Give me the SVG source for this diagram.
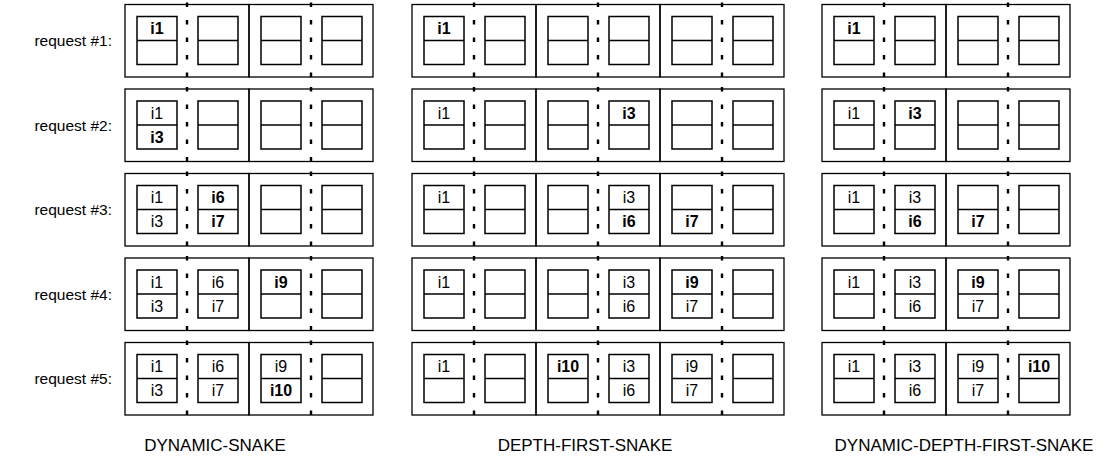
<svg xmlns="http://www.w3.org/2000/svg" xmlns:xlink="http://www.w3.org/1999/xlink" width="1114" height="461" viewBox="0 0 1114 461">
<style>
.frame{fill:none;stroke:#000;stroke-width:1.3}
.box{fill:none;stroke:#000;stroke-width:1.5}
.dots{stroke:#000;stroke-width:2.4;stroke-dasharray:4.5 13}
text{font-family:"Liberation Sans",Arial,Helvetica,sans-serif;font-size:16px;fill:#000}
.it{text-anchor:middle}
.b{font-weight:bold}
.req{text-anchor:end;font-size:15.5px}
.cap{text-anchor:middle;font-size:17px}
</style>
<defs>
<g id="cell">
<rect class="frame" x="0" y="0" width="124" height="72.5"/>
<line class="dots" x1="62" y1="-2" x2="62" y2="76"/>
<rect class="box" x="12" y="12" width="40" height="48"/>
<line class="box" x1="12" y1="36" x2="52" y2="36"/>
<rect class="box" x="73" y="12" width="40" height="48"/>
<line class="box" x1="73" y1="36" x2="113" y2="36"/>
</g>
</defs>
<g id="labels">
<text class="req" x="112" y="46">request #1:</text>
<text class="req" x="112" y="130.5">request #2:</text>
<text class="req" x="112" y="215">request #3:</text>
<text class="req" x="112" y="299.5">request #4:</text>
<text class="req" x="112" y="384">request #5:</text>
</g>
<g id="ds-r1"><use xlink:href="#cell" x="125" y="4.5"/><use xlink:href="#cell" x="249" y="4.5"/>
<text class="it b" x="157" y="34">i1</text></g>
<g id="ds-r2"><use xlink:href="#cell" x="125" y="89"/><use xlink:href="#cell" x="249" y="89"/>
<text class="it" x="157" y="118.5">i1</text><text class="it b" x="157" y="142.5">i3</text></g>
<g id="ds-r3"><use xlink:href="#cell" x="125" y="173.5"/><use xlink:href="#cell" x="249" y="173.5"/>
<text class="it" x="157" y="203">i1</text><text class="it" x="157" y="227">i3</text>
<text class="it b" x="218" y="203">i6</text><text class="it b" x="218" y="227">i7</text></g>
<g id="ds-r4"><use xlink:href="#cell" x="125" y="258"/><use xlink:href="#cell" x="249" y="258"/>
<text class="it" x="157" y="287.5">i1</text><text class="it" x="157" y="311.5">i3</text>
<text class="it" x="218" y="287.5">i6</text><text class="it" x="218" y="311.5">i7</text>
<text class="it b" x="281" y="287.5">i9</text></g>
<g id="ds-r5"><use xlink:href="#cell" x="125" y="342.5"/><use xlink:href="#cell" x="249" y="342.5"/>
<text class="it" x="157" y="372">i1</text><text class="it" x="157" y="396">i3</text>
<text class="it" x="218" y="372">i6</text><text class="it" x="218" y="396">i7</text>
<text class="it" x="281" y="372">i9</text><text class="it b" x="281" y="396">i10</text></g>

<g id="dfs-r1"><use xlink:href="#cell" x="412" y="4.5"/><use xlink:href="#cell" x="536" y="4.5"/><use xlink:href="#cell" x="660" y="4.5"/>
<text class="it b" x="444" y="34">i1</text></g>
<g id="dfs-r2"><use xlink:href="#cell" x="412" y="89"/><use xlink:href="#cell" x="536" y="89"/><use xlink:href="#cell" x="660" y="89"/>
<text class="it" x="444" y="118.5">i1</text><text class="it b" x="629" y="118.5">i3</text></g>
<g id="dfs-r3"><use xlink:href="#cell" x="412" y="173.5"/><use xlink:href="#cell" x="536" y="173.5"/><use xlink:href="#cell" x="660" y="173.5"/>
<text class="it" x="444" y="203">i1</text>
<text class="it" x="629" y="203">i3</text><text class="it b" x="629" y="227">i6</text>
<text class="it b" x="692" y="227">i7</text></g>
<g id="dfs-r4"><use xlink:href="#cell" x="412" y="258"/><use xlink:href="#cell" x="536" y="258"/><use xlink:href="#cell" x="660" y="258"/>
<text class="it" x="444" y="287.5">i1</text>
<text class="it" x="629" y="287.5">i3</text><text class="it" x="629" y="311.5">i6</text>
<text class="it b" x="692" y="287.5">i9</text><text class="it" x="692" y="311.5">i7</text></g>
<g id="dfs-r5"><use xlink:href="#cell" x="412" y="342.5"/><use xlink:href="#cell" x="536" y="342.5"/><use xlink:href="#cell" x="660" y="342.5"/>
<text class="it" x="444" y="372">i1</text>
<text class="it b" x="568" y="372">i10</text>
<text class="it" x="629" y="372">i3</text><text class="it" x="629" y="396">i6</text>
<text class="it" x="692" y="372">i9</text><text class="it" x="692" y="396">i7</text></g>

<g id="ddfs-r1"><use xlink:href="#cell" x="822" y="4.5"/><use xlink:href="#cell" x="946" y="4.5"/>
<text class="it b" x="854" y="34">i1</text></g>
<g id="ddfs-r2"><use xlink:href="#cell" x="822" y="89"/><use xlink:href="#cell" x="946" y="89"/>
<text class="it" x="854" y="118.5">i1</text><text class="it b" x="915" y="118.5">i3</text></g>
<g id="ddfs-r3"><use xlink:href="#cell" x="822" y="173.5"/><use xlink:href="#cell" x="946" y="173.5"/>
<text class="it" x="854" y="203">i1</text>
<text class="it" x="915" y="203">i3</text><text class="it b" x="915" y="227">i6</text>
<text class="it b" x="978" y="227">i7</text></g>
<g id="ddfs-r4"><use xlink:href="#cell" x="822" y="258"/><use xlink:href="#cell" x="946" y="258"/>
<text class="it" x="854" y="287.5">i1</text>
<text class="it" x="915" y="287.5">i3</text><text class="it" x="915" y="311.5">i6</text>
<text class="it b" x="978" y="287.5">i9</text><text class="it" x="978" y="311.5">i7</text></g>
<g id="ddfs-r5"><use xlink:href="#cell" x="822" y="342.5"/><use xlink:href="#cell" x="946" y="342.5"/>
<text class="it" x="854" y="372">i1</text>
<text class="it" x="915" y="372">i3</text><text class="it" x="915" y="396">i6</text>
<text class="it" x="978" y="372">i9</text><text class="it" x="978" y="396">i7</text>
<text class="it b" x="1039" y="372">i10</text></g>

<g id="captions">
<text class="cap" x="215" y="451">DYNAMIC-SNAKE</text>
<text class="cap" x="585" y="451">DEPTH-FIRST-SNAKE</text>
<text class="cap" x="964" y="451">DYNAMIC-DEPTH-FIRST-SNAKE</text>
</g>
<g id="connectors"></g>
</svg>
